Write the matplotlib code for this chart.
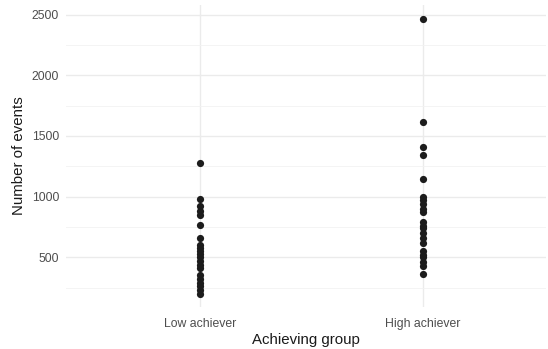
import matplotlib
matplotlib.use("Agg")
import matplotlib.pyplot as plt
import numpy as np

plt.rcParams['font.family'] = ['Liberation Sans', 'DejaVu Sans']

groups = ["Low achiever", "High achiever"]
low_events = [1275, 980, 925, 885, 845, 770, 655, 600, 575, 550, 525, 500,
              470, 440, 410, 350, 320, 290, 260, 230, 200]
high_events = [2465, 1615, 1410, 1345, 1145, 1000, 975, 940, 900, 875, 790,
               760, 740, 700, 660, 615, 550, 520, 500, 460, 425, 360]
y_ticks = [500, 1000, 1500, 2000, 2500]

W, H = 548, 349
fig = plt.figure(figsize=(W / 100, H / 100), dpi=100)
ax = fig.add_axes([66 / W, 1 - 307 / H, 480 / W, 302 / H])

for i, vals in enumerate([low_events, high_events], start=1):
    ax.scatter(np.full(len(vals), i), vals, s=27, color="#1c1c1c",
               linewidths=0, zorder=3)

ax.set_xlim(0.4, 0.4 + 480 / 223)
ax.set_ylim(90, 2580)
ax.set_xticks([1, 2])
ax.set_xticklabels(groups)
ax.set_yticks(y_ticks)
ax.set_yticks([750, 1250, 1750, 2250, 250], minor=True)

ax.grid(True, which="major", color="#ebebeb", linewidth=1.0, zorder=0)
ax.grid(True, which="minor", axis="y", color="#f2f2f2", linewidth=0.6, zorder=0)
for s in ax.spines.values():
    s.set_visible(False)
ax.tick_params(which="both", length=0, labelsize=8.8, labelcolor="#4d4d4d")
ax.tick_params(axis="x", pad=8)
ax.tick_params(axis="y", pad=5)

ax.set_xlabel("Achieving group", fontsize=10.8, color="#1a1a1a", labelpad=2)
ax.set_ylabel("Number of events", fontsize=10.8, color="#1a1a1a", labelpad=4)

fig.savefig("out.png", dpi=100)
